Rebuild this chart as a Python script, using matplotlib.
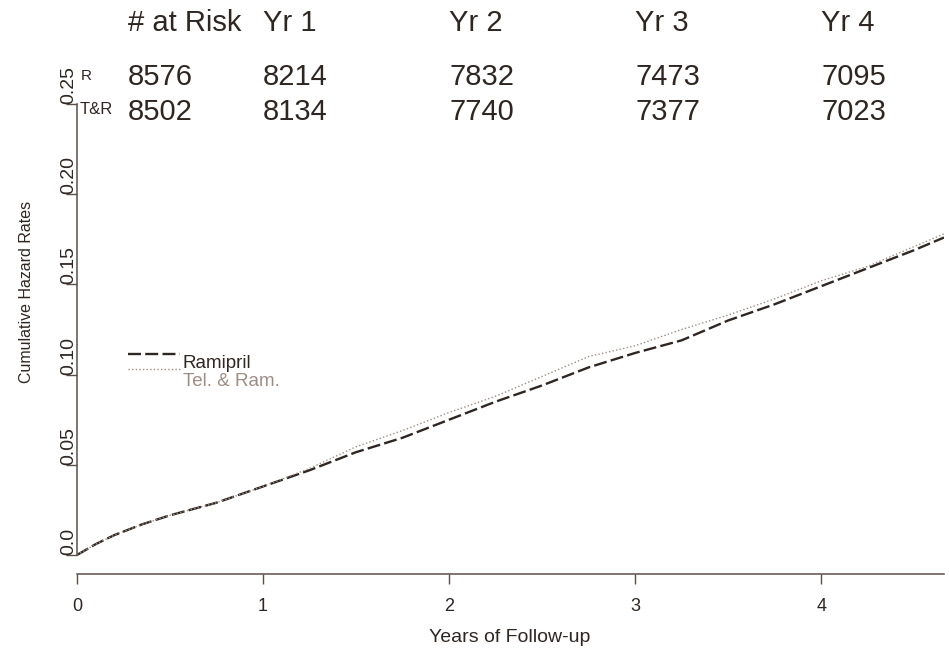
import numpy as np
import matplotlib
matplotlib.use("Agg")
import matplotlib.pyplot as plt
from matplotlib.transforms import blended_transform_factory

years = [0, 0.05, 0.1, 0.2, 0.35, 0.5, 0.75, 1.0, 1.25, 1.5, 1.75, 2.0, 2.25,
         2.5, 2.75, 3.0, 3.25, 3.5, 3.75, 4.0, 4.25, 4.5, 4.66]
ramipril = [0, 0.003, 0.006, 0.011, 0.017, 0.022, 0.029, 0.038, 0.047, 0.057,
            0.065, 0.075, 0.085, 0.094, 0.104, 0.112, 0.119, 0.130, 0.139,
            0.149, 0.159, 0.169, 0.176]
tel_ram = [0, 0.003, 0.006, 0.011, 0.017, 0.022, 0.029, 0.038, 0.048, 0.060,
           0.069, 0.079, 0.088, 0.099, 0.110, 0.116, 0.125, 0.133, 0.142,
           0.152, 0.160, 0.171, 0.178]

risk_cols = ["# at Risk", "Yr 1", "Yr 2", "Yr 3", "Yr 4"]
risk_x = [0.274, 1, 2, 3, 4]
risk_r = [8576, 8214, 7832, 7473, 7095]
risk_tr = [8502, 8134, 7740, 7377, 7023]

yticks = [0, 0.05, 0.10, 0.15, 0.20, 0.25]
ytick_labels = ["0.0", "0.05", "0.10", "0.15", "0.20", "0.25"]
xticks = [0, 1, 2, 3, 4]

DARK = "#2e2622"
AXIS = "#5a504b"
LIGHT = "#9c8e86"
W, H = 949, 648


def main():
    plt.rcParams['font.family'] = ['Liberation Sans', 'DejaVu Sans']
    fig = plt.figure(figsize=(W / 100, H / 100), dpi=100)
    ax = fig.add_axes([77 / W, 1 - 574 / H, 867 / W, 470 / H])

    dash = (0, (5.5, 1.8))
    dot = (0, (1, 1.6))
    ax.plot(years, ramipril, color=DARK, lw=1.7, linestyle=dash)
    ax.plot(years, tel_ram, color=LIGHT, lw=1.0, linestyle=dot)

    ax.set_xlim(0, 4.66)
    ax.set_ylim(-0.01053, 0.25)
    for s in ["top", "right"]:
        ax.spines[s].set_visible(False)
    ax.spines["left"].set_bounds(0, 0.25)
    ax.spines["bottom"].set_bounds(0, 4.66)
    for s in ["left", "bottom"]:
        ax.spines[s].set_color(AXIS)
        ax.spines[s].set_linewidth(1.1)

    ax.set_xticks(xticks)
    ax.set_xticklabels([str(t) for t in xticks], fontsize=13, color=DARK)
    ax.tick_params(axis="x", direction="out", length=7.5, width=1.0,
                   color=AXIS, pad=9.5)
    ax.set_yticks(yticks)
    ax.set_yticklabels(ytick_labels, fontsize=14, color=DARK, rotation=90,
                       va="bottom", ha="center")
    ax.tick_params(axis="y", direction="out", length=8, width=1.0,
                   color=AXIS, pad=-2.0)

    fig.text(27 / W, 1 - 292 / H, "Cumulative Hazard Rates", rotation=90,
             ha="center", va="center", fontsize=11.5, color=DARK)
    fig.text(510 / W, 1 - 642 / H, "Years of Follow-up", ha="center",
             va="baseline", fontsize=14, color=DARK)

    # numbers at risk table above the plot
    tr = blended_transform_factory(ax.transData, fig.transFigure)
    for x, head, r, t in zip(risk_x, risk_cols, risk_r, risk_tr):
        ax.text(x, 1 - 31 / H, head, transform=tr, fontsize=21, color=DARK,
                va="baseline", ha="left")
        ax.text(x, 1 - 85 / H, str(r), transform=tr, fontsize=21, color=DARK,
                va="baseline", ha="left")
        ax.text(x, 1 - 120 / H, str(t), transform=tr, fontsize=21, color=DARK,
                va="baseline", ha="left")
    fig.text(81 / W, 1 - 80 / H, "R", fontsize=11, color=DARK, va="baseline")
    fig.text(80 / W, 1 - 114 / H, "T&R", fontsize=12, color=DARK,
             va="baseline")

    # legend keys and labels, placed like the original
    fig.add_artist(plt.Line2D([128 / W, 180 / W], [1 - 354 / H, 1 - 354 / H],
                              color=DARK, lw=1.7, linestyle=dash))
    fig.add_artist(plt.Line2D([128 / W, 180 / W], [1 - 369 / H, 1 - 369 / H],
                              color=LIGHT, lw=1.0, linestyle=dot))
    fig.text(183 / W, 1 - 368 / H, "Ramipril", fontsize=13.5, color=DARK,
             va="baseline")
    fig.text(183 / W, 1 - 386 / H, "Tel. & Ram.", fontsize=13.5, color=LIGHT,
             va="baseline")

    fig.savefig("out.png", dpi=100)


if __name__ == '__main__':
    main()
